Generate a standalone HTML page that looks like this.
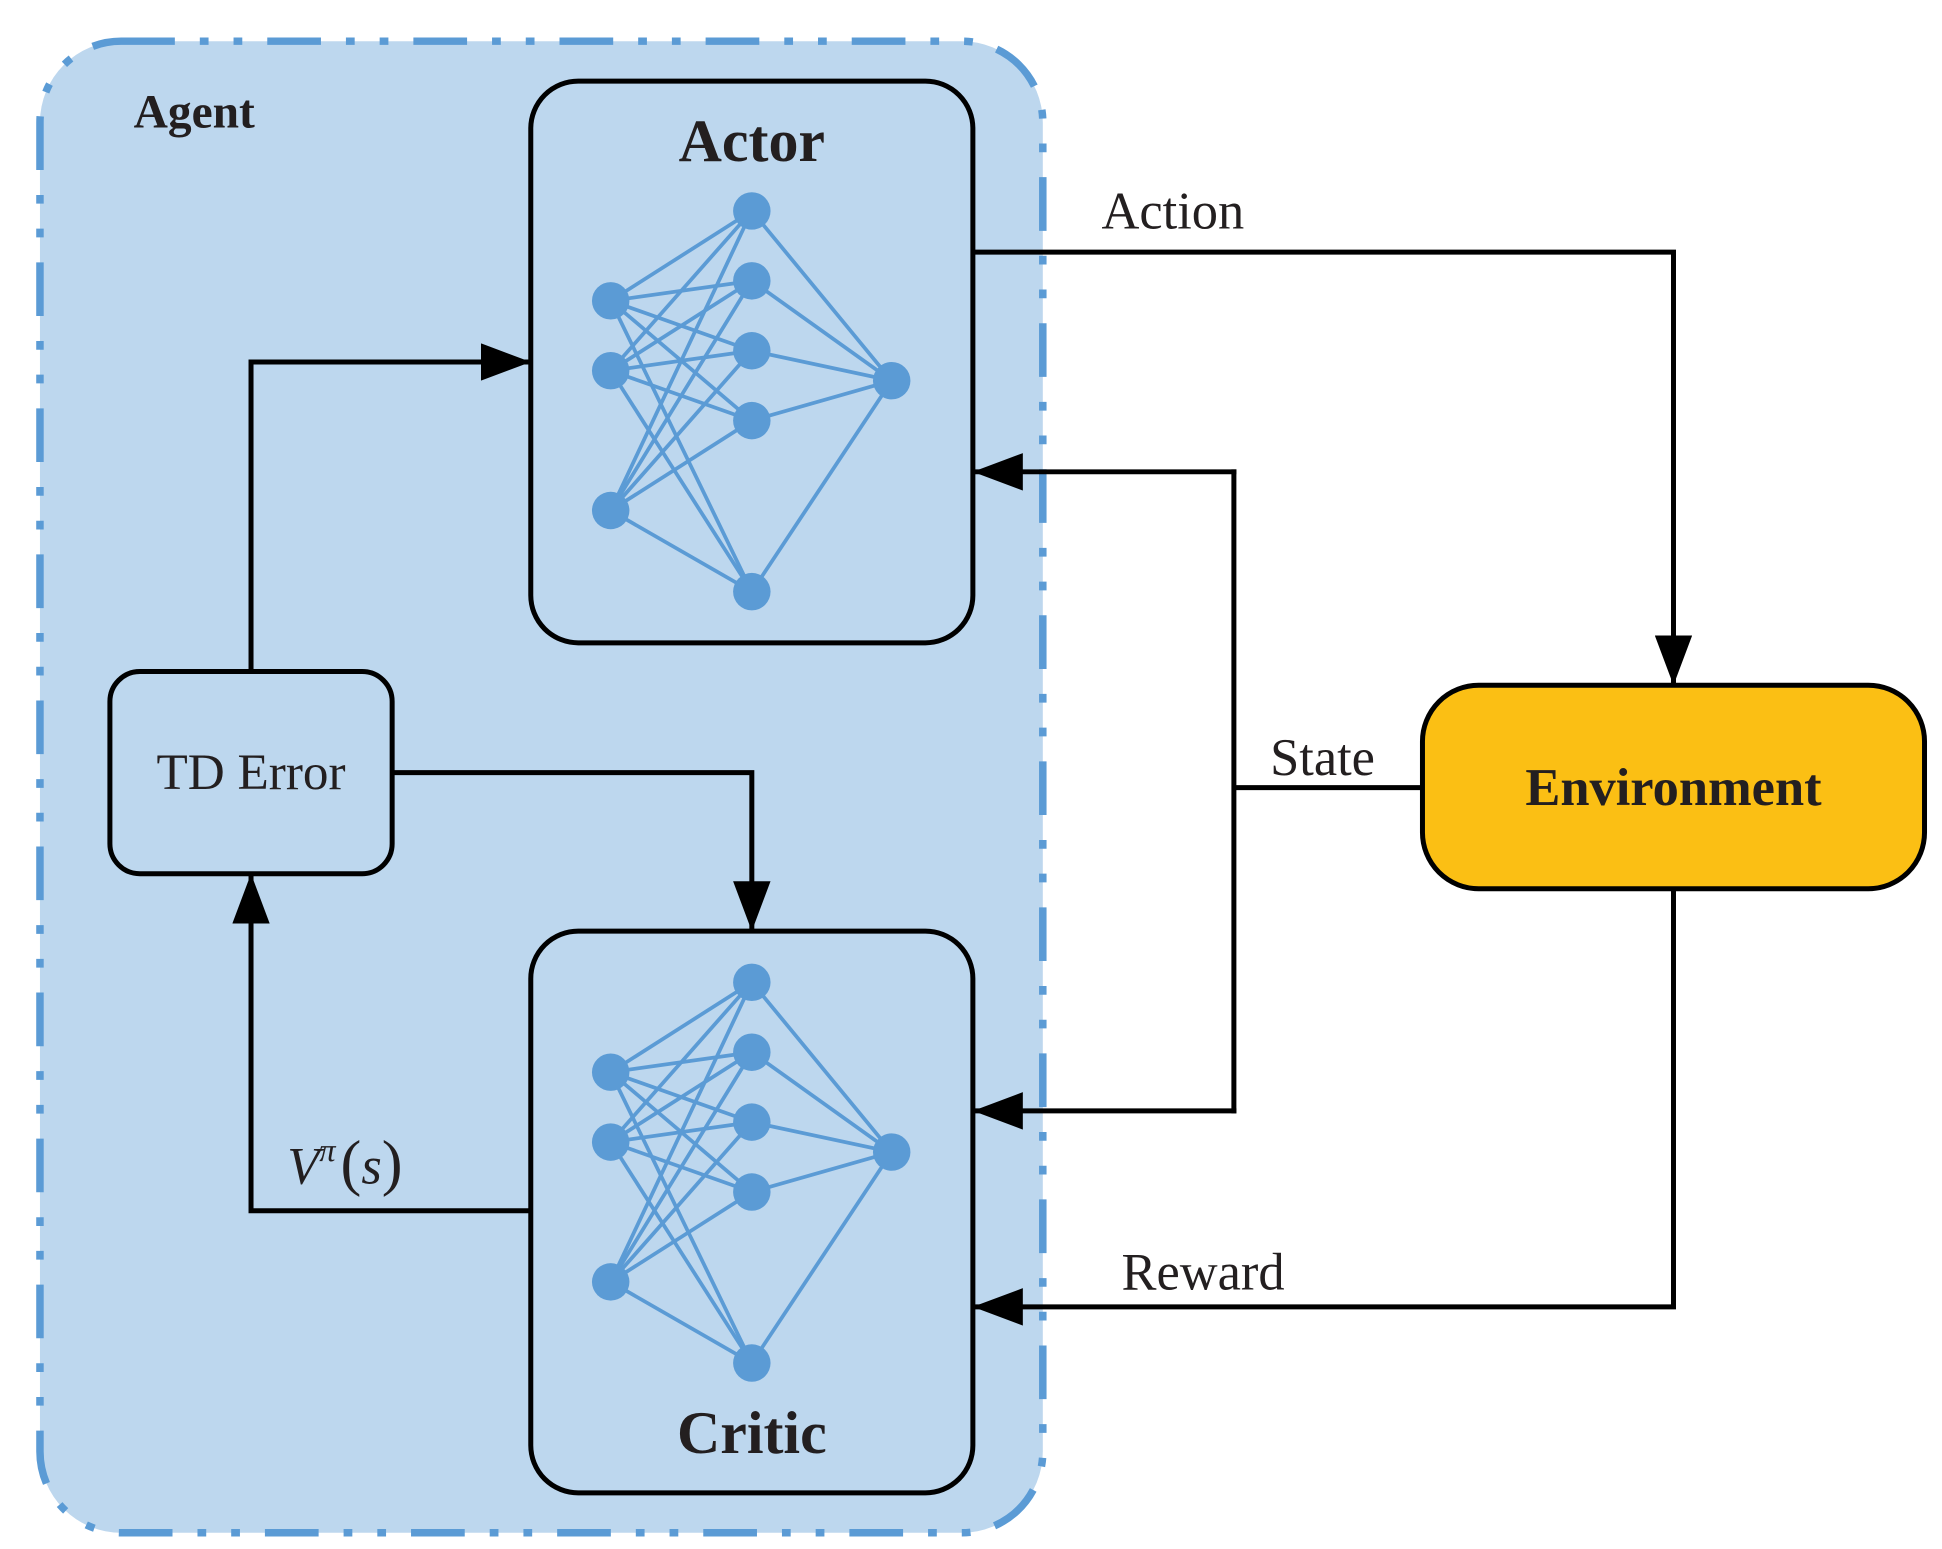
<!DOCTYPE html>
<html><head><meta charset="utf-8"><style>html,body{margin:0;padding:0;background:#fff}svg{display:block}</style></head>
<body>
<svg width="1942" height="1549" viewBox="0 0 1555 1241" preserveAspectRatio="none" xmlns="http://www.w3.org/2000/svg" font-family="Liberation Serif, serif">
<defs>
<marker id="ar" markerWidth="40" markerHeight="30" refX="40" refY="15" orient="auto" markerUnits="userSpaceOnUse">
<path d="M0,0 L40,15 L0,30 Z" fill="#000"/></marker>
<g id="net">
<g stroke="#5b9bd5" stroke-width="3">
<line x1="489" y1="241" x2="602" y2="169"/><line x1="489" y1="241" x2="602" y2="225"/><line x1="489" y1="241" x2="602" y2="281"/><line x1="489" y1="241" x2="602" y2="337"/><line x1="489" y1="241" x2="602" y2="474"/>
<line x1="489" y1="297" x2="602" y2="169"/><line x1="489" y1="297" x2="602" y2="225"/><line x1="489" y1="297" x2="602" y2="281"/><line x1="489" y1="297" x2="602" y2="337"/><line x1="489" y1="297" x2="602" y2="474"/>
<line x1="489" y1="409" x2="602" y2="169"/><line x1="489" y1="409" x2="602" y2="225"/><line x1="489" y1="409" x2="602" y2="281"/><line x1="489" y1="409" x2="602" y2="337"/><line x1="489" y1="409" x2="602" y2="474"/>
<line x1="602" y1="169" x2="714" y2="305"/><line x1="602" y1="225" x2="714" y2="305"/><line x1="602" y1="281" x2="714" y2="305"/><line x1="602" y1="337" x2="714" y2="305"/><line x1="602" y1="474" x2="714" y2="305"/>
</g>
<g fill="#5b9bd5">
<circle cx="489" cy="241" r="15"/><circle cx="489" cy="297" r="15"/><circle cx="489" cy="409" r="15"/>
<circle cx="602" cy="169" r="15"/><circle cx="602" cy="225" r="15"/><circle cx="602" cy="281" r="15"/><circle cx="602" cy="337" r="15"/><circle cx="602" cy="474" r="15"/>
<circle cx="714" cy="305" r="15"/>
</g>
</g>
</defs>
<rect x="32" y="33" width="803" height="1195" rx="65" fill="#bdd7ee" stroke="#5b9bd5" stroke-width="6" stroke-dasharray="43 20 7 20 7 20"/>
<text x="107" y="102" font-size="38" font-weight="bold" fill="#231f20">Agent</text>

<use href="#net"/>
<use href="#net" transform="translate(0,618)"/>

<rect x="425" y="65" width="354" height="450" rx="38" fill="none" stroke="#000" stroke-width="4"/>
<text x="602" y="129" font-size="48" font-weight="bold" text-anchor="middle" fill="#231f20">Actor</text>
<rect x="425" y="746" width="354" height="450" rx="38" fill="none" stroke="#000" stroke-width="4"/>
<text x="602" y="1164" font-size="48" font-weight="bold" text-anchor="middle" fill="#231f20">Critic</text>

<rect x="88" y="538" width="226" height="162" rx="24" fill="none" stroke="#000" stroke-width="4"/>
<text x="201" y="632" font-size="41" text-anchor="middle" fill="#231f20">TD Error</text>

<rect x="1139" y="549" width="402" height="163" rx="45" fill="#fbbf14" stroke="#000" stroke-width="4"/>
<text x="1340" y="645" font-size="42" font-weight="bold" text-anchor="middle" fill="#231f20">Environment</text>

<g fill="none" stroke="#000" stroke-width="4">
<polyline points="201,538 201,290 425,290" marker-end="url(#ar)"/>
<polyline points="314,619 602,619 602,746" marker-end="url(#ar)"/>
<polyline points="425,970 201,970 201,700" marker-end="url(#ar)"/>
<polyline points="779,202 1340,202 1340,549" marker-end="url(#ar)"/>
<line x1="1139" y1="631" x2="988" y2="631"/>
<polyline points="988,376 988,892"/>
<line x1="990" y1="378" x2="779" y2="378" marker-end="url(#ar)"/>
<line x1="990" y1="890" x2="779" y2="890" marker-end="url(#ar)"/>
<polyline points="1340,712 1340,1047 779,1047" marker-end="url(#ar)"/>
</g>
<text x="882" y="183" font-size="42" fill="#231f20">Action</text>
<text x="1017" y="621" font-size="42" fill="#231f20">State</text>
<text x="898" y="1033" font-size="42" fill="#231f20">Reward</text>
<text x="230" y="948" font-size="42" font-style="italic" fill="#231f20">V<tspan font-size="26" dy="-18">π</tspan><tspan dy="18" dx="4" font-style="normal" font-size="50">(</tspan>s<tspan font-style="normal" font-size="50">)</tspan></text>
</svg>
</body></html>
